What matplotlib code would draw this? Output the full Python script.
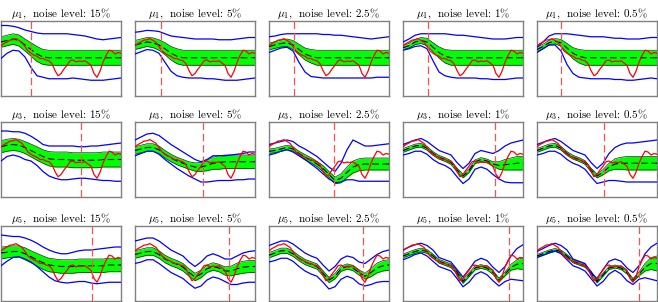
import numpy as np
import matplotlib
matplotlib.use("Agg")
import matplotlib.pyplot as plt

plt.rcParams['mathtext.fontset'] = 'cm'

# ---------------- data (normalised panel units, 0 = bottom, 1 = top) -------------
X_TRUE = np.linspace(0, 1, 41)
TRUE_SIGNAL = [0.67, 0.70, 0.72, 0.745, 0.75, 0.765, 0.74, 0.715, 0.66, 0.60,
               0.57, 0.545, 0.53, 0.50, 0.50, 0.48, 0.47, 0.43, 0.34, 0.27,
               0.30, 0.36, 0.41, 0.47, 0.48, 0.455, 0.465, 0.46, 0.47, 0.44,
               0.41, 0.30, 0.25, 0.33, 0.45, 0.54, 0.61, 0.60, 0.56, 0.58, 0.57]

X_EST = np.linspace(0, 1, 21)

ROW_LABELS = [r'\mu_1', r'\mu_3', r'\mu_5']
NOISE_LABELS = ['15', '5', '2.5', '1', '0.5']

CUTOFFS = [[0.25, 0.22, 0.21, 0.21, 0.20],
           [0.67, 0.57, 0.54, 0.77, 0.56],
           [0.76, 0.78, 0.78, 0.88, 0.85]]

# ---- mu1 ----
MU1_15_MEAN = [0.72, 0.74, 0.76, 0.74, 0.68, 0.62, 0.56, 0.52, 0.51, 0.51, 0.51, 0.51, 0.51, 0.51, 0.51, 0.51, 0.51, 0.51, 0.51, 0.51, 0.51]
MU1_15_HALF = [0.07, 0.07, 0.07, 0.075, 0.08, 0.09, 0.10, 0.10, 0.10, 0.10, 0.10, 0.10, 0.10, 0.10, 0.10, 0.10, 0.10, 0.10, 0.10, 0.10, 0.10]
MU1_15_BUP = [0.94, 0.94, 0.93, 0.91, 0.88, 0.86, 0.84, 0.83, 0.83, 0.83, 0.83, 0.83, 0.82, 0.81, 0.80, 0.78, 0.76, 0.75, 0.76, 0.77, 0.78]
MU1_15_BLO = [0.50, 0.57, 0.61, 0.60, 0.52, 0.38, 0.27, 0.25, 0.23, 0.23, 0.23, 0.23, 0.24, 0.23, 0.22, 0.21, 0.21, 0.21, 0.22, 0.23, 0.24]

MU1_5_MEAN = [0.68, 0.70, 0.72, 0.71, 0.68, 0.63, 0.57, 0.53, 0.51, 0.51, 0.51, 0.51, 0.51, 0.51, 0.51, 0.51, 0.51, 0.51, 0.51, 0.51, 0.51]
MU1_5_HALF = [0.06, 0.06, 0.06, 0.065, 0.07, 0.08, 0.09, 0.10, 0.10, 0.10, 0.10, 0.10, 0.10, 0.10, 0.10, 0.10, 0.10, 0.10, 0.10, 0.10, 0.10]
MU1_5_BUP = [0.85, 0.86, 0.875, 0.87, 0.86, 0.83, 0.80, 0.79, 0.78, 0.77, 0.76, 0.76, 0.76, 0.76, 0.75, 0.75, 0.75, 0.76, 0.77, 0.78, 0.78]
MU1_5_BLO = [0.56, 0.59, 0.62, 0.61, 0.57, 0.45, 0.33, 0.27, 0.25, 0.24, 0.24, 0.24, 0.23, 0.23, 0.22, 0.21, 0.21, 0.21, 0.22, 0.23, 0.24]

MU1_25_MEAN = [0.66, 0.68, 0.70, 0.71, 0.68, 0.62, 0.56, 0.53, 0.51, 0.51, 0.51, 0.51, 0.51, 0.51, 0.51, 0.51, 0.51, 0.51, 0.51, 0.51, 0.51]
MU1_25_HALF = [0.045, 0.045, 0.045, 0.05, 0.06, 0.07, 0.08, 0.09, 0.10, 0.10, 0.10, 0.10, 0.10, 0.10, 0.10, 0.10, 0.10, 0.10, 0.10, 0.10, 0.10]
MU1_25_BUP = [0.79, 0.80, 0.82, 0.83, 0.83, 0.83, 0.83, 0.83, 0.83, 0.82, 0.82, 0.81, 0.81, 0.80, 0.79, 0.78, 0.77, 0.76, 0.77, 0.78, 0.79]
MU1_25_BLO = [0.58, 0.61, 0.64, 0.65, 0.60, 0.45, 0.32, 0.26, 0.25, 0.24, 0.24, 0.24, 0.24, 0.24, 0.24, 0.24, 0.24, 0.24, 0.25, 0.25, 0.25]

MU1_1_MEAN = [0.645, 0.67, 0.72, 0.74, 0.72, 0.65, 0.58, 0.53, 0.51, 0.51, 0.51, 0.51, 0.51, 0.51, 0.51, 0.51, 0.51, 0.51, 0.51, 0.51, 0.51]
MU1_1_HALF = [0.03, 0.03, 0.035, 0.04, 0.05, 0.06, 0.075, 0.09, 0.10, 0.10, 0.10, 0.10, 0.10, 0.10, 0.10, 0.10, 0.10, 0.10, 0.10, 0.10, 0.10]
MU1_1_BUP = [0.72, 0.76, 0.81, 0.83, 0.83, 0.83, 0.83, 0.83, 0.82, 0.81, 0.81, 0.80, 0.79, 0.78, 0.77, 0.76, 0.76, 0.76, 0.77, 0.78, 0.78]
MU1_1_BLO = [0.61, 0.63, 0.66, 0.67, 0.63, 0.47, 0.32, 0.27, 0.25, 0.24, 0.24, 0.24, 0.24, 0.23, 0.23, 0.22, 0.22, 0.22, 0.23, 0.24, 0.24]

MU1_05_MEAN = [0.62, 0.66, 0.71, 0.73, 0.71, 0.64, 0.57, 0.53, 0.51, 0.51, 0.51, 0.51, 0.51, 0.51, 0.51, 0.51, 0.51, 0.51, 0.51, 0.51, 0.51]
MU1_05_HALF = [0.03, 0.03, 0.03, 0.035, 0.045, 0.06, 0.075, 0.09, 0.10, 0.10, 0.10, 0.10, 0.10, 0.10, 0.10, 0.10, 0.10, 0.10, 0.10, 0.10, 0.10]
MU1_05_BUP = [0.65, 0.72, 0.80, 0.83, 0.83, 0.83, 0.82, 0.81, 0.80, 0.79, 0.79, 0.79, 0.78, 0.77, 0.77, 0.76, 0.76, 0.76, 0.77, 0.78, 0.78]
MU1_05_BLO = [0.58, 0.63, 0.68, 0.68, 0.60, 0.42, 0.30, 0.25, 0.24, 0.23, 0.23, 0.23, 0.23, 0.22, 0.22, 0.21, 0.21, 0.22, 0.23, 0.24, 0.23]

# ---- mu3 ----
MU3_15_MEAN = [0.67, 0.69, 0.70, 0.69, 0.66, 0.62, 0.58, 0.54, 0.51, 0.50, 0.50, 0.50, 0.49, 0.49, 0.49, 0.49, 0.49, 0.50, 0.50, 0.50, 0.50]
MU3_15_HALF = [0.08, 0.08, 0.08, 0.08, 0.08, 0.085, 0.09, 0.09, 0.095, 0.10, 0.10, 0.10, 0.10, 0.10, 0.10, 0.10, 0.10, 0.10, 0.10, 0.10, 0.10]
MU3_15_BUP = [0.88, 0.88, 0.87, 0.87, 0.85, 0.81, 0.76, 0.70, 0.68, 0.68, 0.68, 0.68, 0.68, 0.67, 0.67, 0.68, 0.68, 0.69, 0.70, 0.71, 0.72]
MU3_15_BLO = [0.48, 0.54, 0.56, 0.54, 0.50, 0.48, 0.42, 0.34, 0.28, 0.25, 0.23, 0.23, 0.24, 0.25, 0.25, 0.24, 0.23, 0.22, 0.22, 0.21, 0.21]

MU3_5_MEAN = [0.62, 0.64, 0.66, 0.66, 0.63, 0.57, 0.52, 0.48, 0.45, 0.42, 0.40, 0.40, 0.42, 0.45, 0.46, 0.47, 0.47, 0.47, 0.47, 0.47, 0.47]
MU3_5_HALF = [0.05, 0.05, 0.05, 0.05, 0.05, 0.05, 0.05, 0.05, 0.05, 0.05, 0.055, 0.06, 0.07, 0.08, 0.09, 0.09, 0.09, 0.09, 0.09, 0.09, 0.09]
MU3_5_BUP = [0.76, 0.80, 0.84, 0.85, 0.82, 0.76, 0.70, 0.65, 0.60, 0.55, 0.50, 0.47, 0.50, 0.55, 0.55, 0.55, 0.56, 0.57, 0.58, 0.60, 0.60]
MU3_5_BLO = [0.55, 0.58, 0.61, 0.61, 0.57, 0.50, 0.44, 0.38, 0.33, 0.28, 0.24, 0.20, 0.20, 0.21, 0.22, 0.22, 0.22, 0.23, 0.23, 0.24, 0.24]

MU3_25_MEAN = [0.61, 0.62, 0.64, 0.66, 0.64, 0.58, 0.53, 0.49, 0.44, 0.38, 0.30, 0.22, 0.25, 0.33, 0.40, 0.43, 0.44, 0.44, 0.44, 0.44, 0.44]
MU3_25_HALF = [0.03, 0.03, 0.03, 0.03, 0.03, 0.03, 0.035, 0.035, 0.035, 0.04, 0.04, 0.045, 0.06, 0.07, 0.08, 0.08, 0.08, 0.08, 0.08, 0.08, 0.08]
MU3_25_BUP = [0.70, 0.72, 0.74, 0.76, 0.74, 0.68, 0.64, 0.59, 0.54, 0.47, 0.40, 0.34, 0.45, 0.63, 0.76, 0.72, 0.68, 0.68, 0.69, 0.70, 0.71]
MU3_25_BLO = [0.56, 0.58, 0.61, 0.63, 0.60, 0.55, 0.50, 0.44, 0.38, 0.31, 0.24, 0.19, 0.20, 0.23, 0.23, 0.21, 0.21, 0.21, 0.21, 0.21, 0.21]

MU3_1_MEAN = [0.62, 0.65, 0.68, 0.69, 0.65, 0.58, 0.53, 0.50, 0.46, 0.36, 0.28, 0.35, 0.47, 0.50, 0.48, 0.44, 0.42, 0.43, 0.44, 0.45, 0.45]
MU3_1_HALF = [0.025, 0.025, 0.025, 0.025, 0.025, 0.025, 0.025, 0.025, 0.025, 0.025, 0.025, 0.025, 0.025, 0.025, 0.025, 0.03, 0.05, 0.07, 0.08, 0.09, 0.09]
MU3_1_BUP = [0.70, 0.73, 0.76, 0.78, 0.74, 0.68, 0.62, 0.59, 0.56, 0.46, 0.38, 0.45, 0.58, 0.62, 0.60, 0.58, 0.62, 0.68, 0.72, 0.74, 0.76]
MU3_1_BLO = [0.56, 0.58, 0.61, 0.61, 0.57, 0.50, 0.45, 0.42, 0.37, 0.27, 0.18, 0.24, 0.37, 0.40, 0.37, 0.30, 0.24, 0.20, 0.19, 0.19, 0.19]

MU3_05_MEAN = [0.62, 0.65, 0.68, 0.69, 0.65, 0.58, 0.53, 0.50, 0.46, 0.36, 0.28, 0.33, 0.40, 0.44, 0.45, 0.45, 0.45, 0.45, 0.45, 0.45, 0.45]
MU3_05_HALF = [0.025, 0.025, 0.025, 0.025, 0.025, 0.025, 0.025, 0.025, 0.025, 0.025, 0.025, 0.035, 0.05, 0.07, 0.08, 0.09, 0.09, 0.09, 0.09, 0.09, 0.09]
MU3_05_BUP = [0.70, 0.73, 0.76, 0.78, 0.74, 0.68, 0.62, 0.59, 0.56, 0.46, 0.38, 0.45, 0.58, 0.66, 0.70, 0.72, 0.72, 0.73, 0.74, 0.75, 0.76]
MU3_05_BLO = [0.56, 0.58, 0.61, 0.61, 0.57, 0.50, 0.45, 0.42, 0.37, 0.27, 0.18, 0.20, 0.22, 0.22, 0.21, 0.20, 0.20, 0.20, 0.20, 0.20, 0.20]

# ---- mu5 ----
MU5_15_MEAN = [0.64, 0.65, 0.66, 0.66, 0.63, 0.59, 0.55, 0.51, 0.48, 0.47, 0.46, 0.46, 0.46, 0.47, 0.47, 0.47, 0.47, 0.47, 0.48, 0.48, 0.48]
MU5_15_HALF = [0.08, 0.075, 0.075, 0.075, 0.08, 0.08, 0.085, 0.09, 0.09, 0.09, 0.09, 0.09, 0.09, 0.09, 0.09, 0.09, 0.09, 0.09, 0.09, 0.09, 0.09]
MU5_15_BUP = [0.88, 0.87, 0.86, 0.86, 0.84, 0.81, 0.77, 0.72, 0.68, 0.65, 0.63, 0.63, 0.65, 0.67, 0.68, 0.68, 0.69, 0.70, 0.71, 0.72, 0.72]
MU5_15_BLO = [0.47, 0.53, 0.58, 0.59, 0.56, 0.52, 0.46, 0.39, 0.32, 0.27, 0.25, 0.24, 0.25, 0.26, 0.26, 0.24, 0.23, 0.24, 0.25, 0.25, 0.25]

MU5_5_MEAN = [0.62, 0.64, 0.66, 0.66, 0.62, 0.56, 0.52, 0.49, 0.45, 0.38, 0.32, 0.36, 0.43, 0.46, 0.44, 0.40, 0.40, 0.43, 0.45, 0.46, 0.46]
MU5_5_HALF = [0.05, 0.05, 0.05, 0.05, 0.05, 0.05, 0.05, 0.05, 0.05, 0.05, 0.05, 0.05, 0.05, 0.05, 0.05, 0.055, 0.065, 0.075, 0.08, 0.08, 0.08]
MU5_5_BUP = [0.80, 0.82, 0.84, 0.84, 0.80, 0.74, 0.68, 0.64, 0.60, 0.52, 0.46, 0.52, 0.60, 0.63, 0.60, 0.56, 0.56, 0.60, 0.64, 0.66, 0.67]
MU5_5_BLO = [0.50, 0.52, 0.55, 0.55, 0.50, 0.44, 0.38, 0.34, 0.30, 0.23, 0.17, 0.20, 0.28, 0.32, 0.30, 0.26, 0.22, 0.22, 0.24, 0.25, 0.25]

MU5_25_MEAN = [0.61, 0.64, 0.67, 0.67, 0.63, 0.57, 0.52, 0.49, 0.46, 0.37, 0.28, 0.33, 0.43, 0.46, 0.44, 0.38, 0.33, 0.38, 0.44, 0.47, 0.48]
MU5_25_HALF = [0.035, 0.035, 0.035, 0.035, 0.035, 0.035, 0.035, 0.035, 0.035, 0.035, 0.035, 0.035, 0.035, 0.035, 0.035, 0.035, 0.04, 0.055, 0.065, 0.07, 0.07]
MU5_25_BUP = [0.74, 0.77, 0.80, 0.80, 0.76, 0.70, 0.64, 0.60, 0.57, 0.48, 0.40, 0.46, 0.56, 0.60, 0.58, 0.52, 0.50, 0.56, 0.62, 0.66, 0.68]
MU5_25_BLO = [0.52, 0.54, 0.57, 0.57, 0.53, 0.46, 0.40, 0.36, 0.33, 0.25, 0.16, 0.19, 0.29, 0.33, 0.30, 0.23, 0.20, 0.22, 0.25, 0.26, 0.26]

MU5_1_MEAN = [0.60, 0.63, 0.66, 0.68, 0.66, 0.60, 0.53, 0.50, 0.47, 0.38, 0.26, 0.35, 0.44, 0.46, 0.44, 0.38, 0.28, 0.36, 0.45, 0.49, 0.50]
MU5_1_HALF = [0.025, 0.025, 0.025, 0.025, 0.025, 0.025, 0.025, 0.025, 0.025, 0.025, 0.025, 0.025, 0.025, 0.025, 0.025, 0.025, 0.025, 0.025, 0.04, 0.06, 0.08]
MU5_1_BUP = [0.68, 0.72, 0.75, 0.77, 0.74, 0.68, 0.58, 0.55, 0.52, 0.42, 0.32, 0.42, 0.53, 0.57, 0.54, 0.45, 0.38, 0.46, 0.60, 0.70, 0.75]
MU5_1_BLO = [0.55, 0.58, 0.62, 0.64, 0.60, 0.53, 0.46, 0.43, 0.40, 0.30, 0.19, 0.25, 0.35, 0.39, 0.35, 0.27, 0.20, 0.26, 0.29, 0.28, 0.27]

MU5_05_MEAN = [0.60, 0.63, 0.66, 0.68, 0.66, 0.60, 0.53, 0.50, 0.47, 0.38, 0.26, 0.35, 0.44, 0.46, 0.44, 0.38, 0.28, 0.36, 0.45, 0.50, 0.50]
MU5_05_HALF = [0.02, 0.02, 0.02, 0.02, 0.02, 0.02, 0.02, 0.02, 0.02, 0.02, 0.02, 0.02, 0.02, 0.02, 0.02, 0.02, 0.02, 0.025, 0.05, 0.08, 0.10]
MU5_05_BUP = [0.66, 0.70, 0.74, 0.77, 0.74, 0.68, 0.56, 0.53, 0.50, 0.38, 0.30, 0.42, 0.53, 0.56, 0.53, 0.44, 0.38, 0.47, 0.63, 0.72, 0.77]
MU5_05_BLO = [0.58, 0.61, 0.64, 0.67, 0.63, 0.55, 0.47, 0.44, 0.40, 0.30, 0.20, 0.26, 0.36, 0.41, 0.36, 0.27, 0.22, 0.29, 0.31, 0.29, 0.27]

PANELS = [
    [(MU1_15_MEAN, MU1_15_HALF, MU1_15_BUP, MU1_15_BLO),
     (MU1_5_MEAN, MU1_5_HALF, MU1_5_BUP, MU1_5_BLO),
     (MU1_25_MEAN, MU1_25_HALF, MU1_25_BUP, MU1_25_BLO),
     (MU1_1_MEAN, MU1_1_HALF, MU1_1_BUP, MU1_1_BLO),
     (MU1_05_MEAN, MU1_05_HALF, MU1_05_BUP, MU1_05_BLO)],
    [(MU3_15_MEAN, MU3_15_HALF, MU3_15_BUP, MU3_15_BLO),
     (MU3_5_MEAN, MU3_5_HALF, MU3_5_BUP, MU3_5_BLO),
     (MU3_25_MEAN, MU3_25_HALF, MU3_25_BUP, MU3_25_BLO),
     (MU3_1_MEAN, MU3_1_HALF, MU3_1_BUP, MU3_1_BLO),
     (MU3_05_MEAN, MU3_05_HALF, MU3_05_BUP, MU3_05_BLO)],
    [(MU5_15_MEAN, MU5_15_HALF, MU5_15_BUP, MU5_15_BLO),
     (MU5_5_MEAN, MU5_5_HALF, MU5_5_BUP, MU5_5_BLO),
     (MU5_25_MEAN, MU5_25_HALF, MU5_25_BUP, MU5_25_BLO),
     (MU5_1_MEAN, MU5_1_HALF, MU5_1_BUP, MU5_1_BLO),
     (MU5_05_MEAN, MU5_05_HALF, MU5_05_BUP, MU5_05_BLO)],
]

# ---------------- layout ----------------
W, H = 658, 302
fig = plt.figure(figsize=(W / 100, H / 100), dpi=100)
col_left = [1, 135, 269, 403, 537]
row_top = [21, 122, 226]
pw, ph = 120, 75

for r in range(3):
    for c in range(5):
        mean, half, bup, blo = (np.array(a) for a in PANELS[r][c])
        ax = fig.add_axes([col_left[c] / W, 1 - (row_top[r] + ph) / H, pw / W, ph / H])
        ax.fill_between(X_EST, mean - half, mean + half, color='#00ff00', lw=0, zorder=1)
        ax.plot(X_EST, mean - half, color='#202020', lw=0.5, zorder=2)
        ax.plot(X_EST, mean + half, color='#202020', lw=0.5, zorder=2)
        ax.plot(X_EST, mean, color='black', lw=0.8, ls=(0, (6, 3)), zorder=3)
        ax.plot(X_EST, bup, color='#0000ff', lw=0.9, zorder=4)
        ax.plot(X_EST, blo, color='#0000ff', lw=0.9, zorder=4)
        ax.plot(X_TRUE, TRUE_SIGNAL, color='#ff0000', lw=0.9, zorder=5)
        ax.axvline(CUTOFFS[r][c], color='#ff5050', lw=0.9, ls=(0, (6, 3)), zorder=6)
        ax.set_xlim(0, 1)
        ax.set_ylim(0, 1)
        ax.set_xticks([])
        ax.set_yticks([])
        for s in ax.spines.values():
            s.set_color('#808080')
            s.set_linewidth(1.0)
        ax.set_title('$%s$,  noise level: %s%%' % (ROW_LABELS[r], NOISE_LABELS[c]),
                     fontsize=8, pad=2.5, fontfamily='cmr10')

fig.savefig('out.png', dpi=100)
